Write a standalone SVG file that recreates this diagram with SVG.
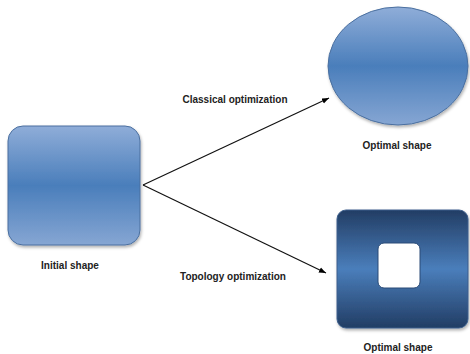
<svg xmlns="http://www.w3.org/2000/svg" width="470" height="354" viewBox="0 0 470 354">
<defs>
<linearGradient id="gLight" x1="0" y1="0" x2="0" y2="1">
<stop offset="0" stop-color="#8fadd8"/>
<stop offset="0.5" stop-color="#4a7ebb"/>
<stop offset="1" stop-color="#86a6d3"/>
</linearGradient>
<linearGradient id="gDark" x1="0" y1="0" x2="0" y2="1">
<stop offset="0" stop-color="#223d64"/>
<stop offset="0.5" stop-color="#4a7ebb"/>
<stop offset="1" stop-color="#223d64"/>
</linearGradient>
<marker id="ah" viewBox="0 0 10 10" refX="10" refY="5" markerWidth="7" markerHeight="7" orient="auto" markerUnits="userSpaceOnUse">
<path d="M0,1 L10,5 L0,9 Z" fill="#000"/>
</marker>
<filter id="sh" x="-10%" y="-10%" width="125%" height="125%">
<feDropShadow dx="1" dy="2" stdDeviation="1.5" flood-color="#000" flood-opacity="0.3"/>
</filter>
</defs>
<style>
.lbl{font-family:"Liberation Sans",Arial,sans-serif;font-weight:bold;font-size:10px;fill:#222;text-anchor:middle}
.edge{stroke:#111;stroke-width:1.2;fill:none;marker-end:url(#ah)}
</style>
<g id="initial">
<rect x="8" y="126" width="132" height="119" rx="15" fill="url(#gLight)" stroke="#4a6f9f" stroke-width="1" filter="url(#sh)"/>
<text class="lbl" x="70" y="269">Initial shape</text>
</g>
<g id="classical">
<ellipse cx="398" cy="66" rx="70" ry="59" fill="url(#gLight)" stroke="#4a6f9f" stroke-width="1" filter="url(#sh)"/>
<text class="lbl" x="397" y="149">Optimal shape</text>
</g>
<g id="topology">
<rect x="337" y="210" width="131" height="118" rx="9" fill="url(#gDark)" stroke="#3d5f8c" stroke-width="1" filter="url(#sh)"/>
<rect x="378" y="243" width="42" height="45" rx="6" fill="#fff" stroke="#2b4b76" stroke-width="1"/>
<text class="lbl" x="398" y="351">Optimal shape</text>
</g>
<g id="connectors">
<line class="edge" x1="143" y1="185" x2="329" y2="98"/>
<line class="edge" x1="143" y1="185" x2="326" y2="273"/>
<text class="lbl" x="235" y="103">Classical optimization</text>
<text class="lbl" x="233" y="280">Topology optimization</text>
</g>
</svg>
